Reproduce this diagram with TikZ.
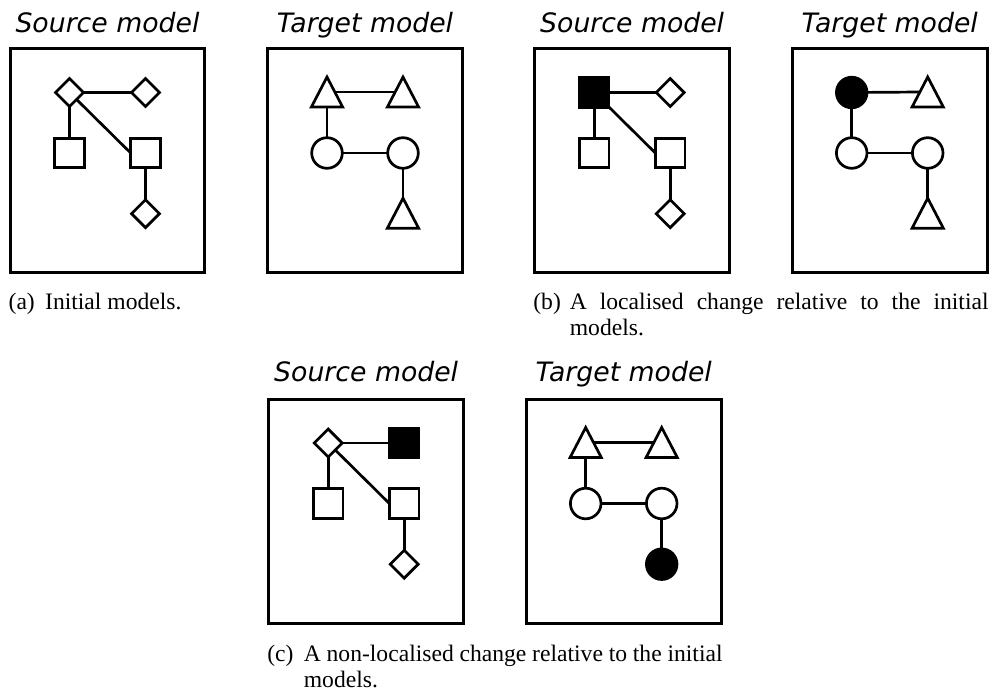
\documentclass[tikz,border=0pt]{standalone}
\usepackage{fontspec}
\setmainfont{Liberation Serif}
\newfontfamily\titlefont{DejaVu Sans}
\usetikzlibrary{shapes.geometric}
\hyphenpenalty=10000
\exhyphenpenalty=10000

\tikzset{
  frame/.style={draw, line width=3pt, minimum width=194.7pt, minimum height=224pt, inner sep=0pt, outer sep=0pt},
  title/.style={anchor=base, inner sep=0pt, font=\titlefont\itshape\fontsize{26.7}{32}\selectfont},
  elem/.style={draw, line width=2.7pt, inner sep=0pt, outer sep=0pt, fill=white},
  sq/.style={elem, rectangle, minimum size=29.6pt},
  dm/.style={elem, diamond, minimum size=27.9pt},
  ci/.style={elem, circle, minimum size=30.6pt},
  tri/.style={elem, isosceles triangle, shape border rotate=90, isosceles triangle apex angle=55,
              minimum width=29pt, minimum height=30pt, anchor=lower side},
  filled/.style={fill=black},
  link/.style={line width=2.7pt},
  caplabel/.style={anchor=base west, inner sep=0pt, outer sep=0pt, font=\fontsize{23.6}{26.7}\selectfont},
  captext/.style={anchor=base west, inner sep=0pt, outer sep=0pt, text width=418.7pt, align=justify,
                  font=\fontsize{23.6}{26.7}\selectfont}
}

\begin{document}
\begin{tikzpicture}[x=1pt, y=-1pt]
\useasboundingbox (0,0) rectangle (993,696);

% ---------- (a) initial models ----------
\node[frame] (aSbox) at (107.5,160.5) {};
\node[title] (aStitle) at (107.5,32) {Source model};
\node[dm] (aS1) at (69.5,92.5) {};
\node[dm] (aS2) at (145.5,92.5) {};
\node[sq] (aS3) at (69.5,153) {};
\node[sq] (aS4) at (145.5,153) {};
\node[dm] (aS5) at (145.5,213.7) {};
\draw[link] (aS1) -- (aS2);
\draw[link] (aS1) -- (aS3);
\draw[link] (aS1) -- (aS4.west);
\draw[link] (aS4) -- (aS5);

\node[frame] (aTbox) at (365,160.5) {};
\node[title] (aTtitle) at (365,32) {Target model};
\node[tri] (aT1) at (327,107) {};
\node[tri] (aT2) at (403,107) {};
\node[ci] (aT3) at (327,153) {};
\node[ci] (aT4) at (403,153) {};
\node[tri] (aT5) at (403,228.2) {};
\draw[link] (aT1.right side) -- (aT2.left side);
\draw[link] (aT1.lower side) -- (aT3);
\draw[link] (aT3) -- (aT4);
\draw[link] (aT4) -- (aT5.apex);

\node[caplabel] (alab) at (8.65,309) {(a)};
\node[captext] (acap) at (45.15,309) {Initial models.};

% ---------- (b) localised change ----------
\node[frame] (bSbox) at (632.2,160.5) {};
\node[title] (bStitle) at (632.2,32) {Source model};
\node[sq, filled] (bS1) at (594.2,92.5) {};
\node[dm] (bS2) at (670.2,92.5) {};
\node[sq] (bS3) at (594.2,153) {};
\node[sq] (bS4) at (670.2,153) {};
\node[dm] (bS5) at (670.2,213.7) {};
\draw[link] (bS1) -- (bS2);
\draw[link] (bS1) -- (bS3);
\draw[link] (bS1) -- (bS4.west);
\draw[link] (bS4) -- (bS5);

\node[frame] (bTbox) at (889.7,160.5) {};
\node[title] (bTtitle) at (889.7,32) {Target model};
\node[ci, filled] (bT1) at (851.7,92.5) {};
\node[tri] (bT2) at (927.7,107) {};
\node[ci] (bT3) at (851.7,153) {};
\node[ci] (bT4) at (927.7,153) {};
\node[tri] (bT5) at (927.7,228.2) {};
\draw[link] (bT1) -- (bT2.left side);
\draw[link] (bT1) -- (bT3);
\draw[link] (bT3) -- (bT4);
\draw[link] (bT4) -- (bT5.apex);

\node[caplabel] (blab) at (533.35,309) {(b)};
\node[captext] (bcap) at (569.85,309) {A localised change relative to the initial models.};

% ---------- (c) non-localised change ----------
\node[frame] (cSbox) at (366.2,511) {};
\node[title] (cStitle) at (366.2,381) {Source model};
\node[dm] (cS1) at (328.2,443) {};
\node[sq, filled] (cS2) at (404.2,443) {};
\node[sq] (cS3) at (328.2,503.5) {};
\node[sq] (cS4) at (404.2,503.5) {};
\node[dm] (cS5) at (404.2,564.2) {};
\draw[link] (cS1) -- (cS2);
\draw[link] (cS1) -- (cS3);
\draw[link] (cS1) -- (cS4.west);
\draw[link] (cS4) -- (cS5);

\node[frame] (cTbox) at (623.7,511) {};
\node[title] (cTtitle) at (623.7,381) {Target model};
\node[tri] (cT1) at (585.7,457.5) {};
\node[tri] (cT2) at (661.7,457.5) {};
\node[ci] (cT3) at (585.7,503.5) {};
\node[ci] (cT4) at (661.7,503.5) {};
\node[ci, filled] (cT5) at (661.7,564.2) {};
\draw[link] (cT1.right side) -- (cT2.left side);
\draw[link] (cT1.lower side) -- (cT3);
\draw[link] (cT3) -- (cT4);
\draw[link] (cT4) -- (cT5);

\node[caplabel] (clab) at (267.35,661) {(c)};
\node[captext] (ccap) at (303.85,661) {A non-localised change relative to the initial models.};
\end{tikzpicture}
\end{document}
